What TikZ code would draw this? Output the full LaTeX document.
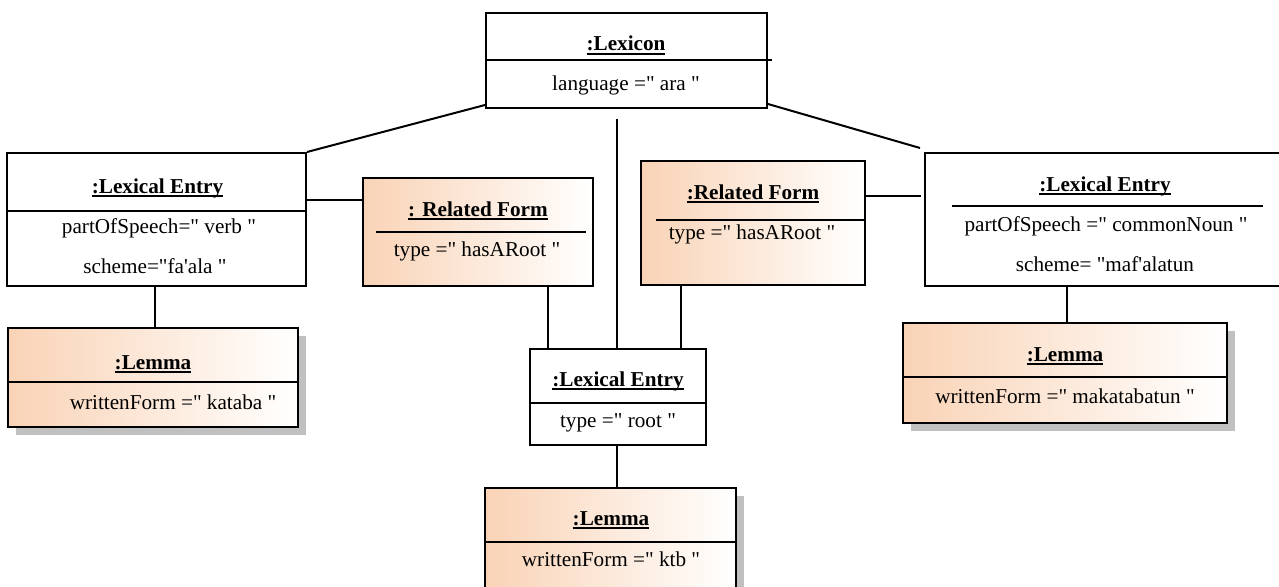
\documentclass[tikz,border=0pt]{standalone}
\usepackage{fontspec}
\setmainfont{Liberation Serif}[Ligatures=TeXOff]
\usetikzlibrary{calc,shadows}
\definecolor{peach}{RGB}{249,211,182}
\definecolor{shadowgray}{RGB}{192,192,192}
% bold, heavily underlined object name
\newcommand\objname[1]{\setbox0\hbox{\bfseries #1}\rlap{\rule[-4.3pt]{\wd0}{2.3pt}}\box0}
\tikzset{
  objbox/.style={draw, line width=2pt, inner sep=0pt, fill=white},
  lemmabox/.style={objbox, left color=peach, right color=white,
    drop shadow={shadow xshift=8pt, shadow yshift=-8pt, fill=shadowgray, opacity=1}},
  txt/.style={anchor=base, inner sep=0pt, font=\fontsize{21.2}{25}\selectfont},
  sepline/.style={line width=2pt},
  link/.style={line width=2pt}
}
\begin{document}
\begin{tikzpicture}[x=1pt,y=-1pt]
\useasboundingbox (0,0) rectangle (1279,586);
\clip (0,0) rectangle (1279,586);

% ---- boxes ----
\node[objbox, minimum width=281pt, minimum height=95pt]  (lex)  at (626.5,60.5) {};
\node[objbox, minimum width=299pt, minimum height=133pt] (le1)  at (156.5,219.5) {};
\node[objbox, minimum width=360pt, minimum height=133pt] (le2)  at (1105,219.5) {};
\node[objbox, minimum width=176pt, minimum height=96pt]  (root) at (618,397) {};
\node[objbox, left color=peach, right color=white, minimum width=230pt, minimum height=108pt] (rf1) at (478,232) {};
\node[objbox, left color=peach, right color=white, minimum width=224pt, minimum height=124pt] (rf2) at (753,223) {};
\node[lemmabox, minimum width=290pt, minimum height=99pt]  (lem1) at (153,377.5) {};
\node[lemmabox, minimum width=324pt, minimum height=100pt] (lem2) at (1065,373) {};
\node[lemmabox, minimum width=251pt, minimum height=108pt] (lem3) at (610.5,542) {};

% ---- compartment separators ----
\draw[sepline] ([xshift=2pt]lex.west) -- ([xshift=4pt]lex.east);
\draw[sepline] ([yshift=8.5pt]le1.west) -- ([yshift=8.5pt]le1.east);
\draw[sepline] ([xshift=28pt,yshift=13.5pt]le2.west) -- ([xshift=-23pt,yshift=13.5pt]le2.east);
\draw[sepline] ([yshift=-6pt]root.west) -- ([yshift=-6pt]root.east);
\draw[sepline] ([xshift=14pt]rf1.west) -- ([xshift=-8pt]rf1.east);
\draw[sepline] ([xshift=16pt,yshift=3pt]rf2.west) -- ([yshift=3pt]rf2.east);
\draw[sepline] ([yshift=-4.5pt]lem1.west) -- ([yshift=-4.5pt]lem1.east);
\draw[sepline] ([yshift=-4pt]lem2.west) -- ([yshift=-4pt]lem2.east);
\draw[sepline] (lem3.west) -- (lem3.east);

% ---- texts ----
\node[txt] (lexT)  at (626,51)    {\objname{:Lexicon}};
\node[txt] (lexA)  at (626,90)    {language =" ara "};

\node[txt] (le1T)  at (157.5,193) {\objname{:Lexical Entry}};
\node[txt] (le1A)  at (159,233)   {partOfSpeech=" verb "};
\node[txt] (le1B)  at (155,273)   {scheme="fa'ala "};

\node[txt] (lem1T) at (153,369)   {\objname{:Lemma}};
\node[txt] (lem1A) at (173,409)   {writtenForm =" kataba "};

\node[txt] (rf1T)  at (478,216)   {\objname{: Related Form}};
\node[txt] (rf1A)  at (477,256)   {type =" hasARoot "};

\node[txt] (rf2T)  at (753,199)   {\objname{:Related Form}};
\node[txt] (rf2A)  at (752,239)   {type =" hasARoot "};

\node[txt] (le2T)  at (1105,191)  {\objname{:Lexical Entry}};
\node[txt] (le2A)  at (1106,231)  {partOfSpeech =" commonNoun "};
\node[txt] (le2B)  at (1105,271)  {scheme= "maf'alatun};

\node[txt] (lem2T) at (1065,361)  {\objname{:Lemma}};
\node[txt] (lem2A) at (1065,403)  {writtenForm =" makatabatun "};

\node[txt] (rootT) at (618,386)   {\objname{:Lexical Entry}};
\node[txt] (rootA) at (618,427)   {type =" root "};

\node[txt] (lem3T) at (611,525)   {\objname{:Lemma}};
\node[txt] (lem3A) at (611,566)   {writtenForm =" ktb "};

% ---- links ----
\draw[link] (le1.north east) -- ([yshift=4pt]lex.south west);
\draw[link] ([yshift=5pt]lex.south east) -- ([xshift=-4pt,yshift=4pt]le2.north west);
\draw[link] ([xshift=-1pt]root.north) -- ([xshift=-1pt,yshift=-10pt]root.north |- lex.south);
\draw[link] ([yshift=32pt]rf1.west) -- ([yshift=32pt]rf1.west -| le1.east);
\draw[link] ([yshift=27pt]rf2.east) -- ([xshift=-3pt,yshift=27pt]rf2.east -| le2.west);
\draw[link] ([xshift=70pt]rf1.south) -- ([xshift=70pt]rf1.south |- root.north);
\draw[link] ([xshift=-72pt]rf2.south) -- ([xshift=-72pt]rf2.south |- root.north);
\draw[link] ([xshift=2pt]lem1.north) -- ([xshift=2pt]lem1.north |- le1.south);
\draw[link] ([xshift=2pt]lem2.north) -- ([xshift=2pt]lem2.north |- le2.south);
\draw[link] ([xshift=-1pt]root.south) -- ([xshift=-1pt]root.south |- lem3.north);
\end{tikzpicture}
\end{document}
